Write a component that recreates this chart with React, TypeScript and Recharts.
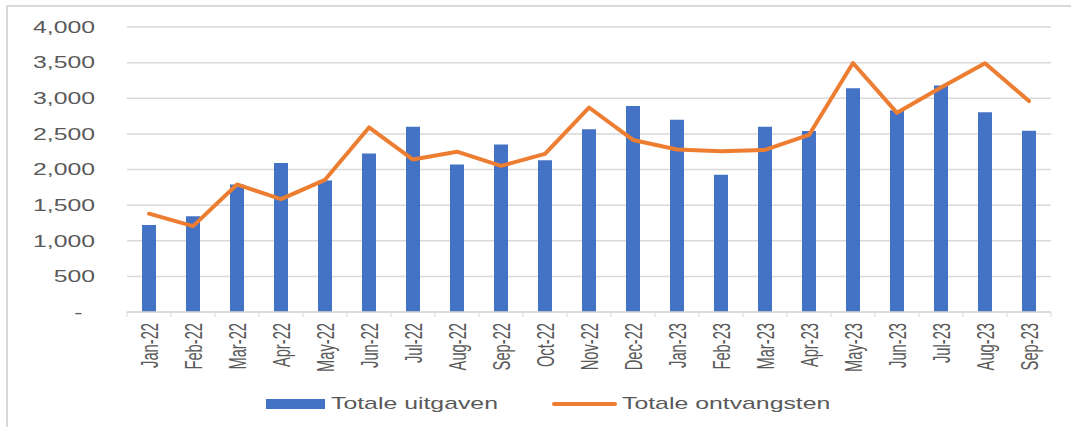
import React from "react";
import {
  ComposedChart,
  Bar,
  Line,
  XAxis,
  YAxis,
  CartesianGrid,
  Legend,
} from "recharts";

/* ── Data ─────────────────────────────────────────────────────── */

const months = [
  "Jan-22", "Feb-22", "Mar-22", "Apr-22", "May-22", "Jun-22", "Jul-22",
  "Aug-22", "Sep-22", "Oct-22", "Nov-22", "Dec-22", "Jan-23", "Feb-23",
  "Mar-23", "Apr-23", "May-23", "Jun-23", "Jul-23", "Aug-23", "Sep-23",
];

const uitgaven = [
  1220, 1345, 1790, 2090, 1845, 2225, 2600, 2070, 2350, 2130, 2565, 2890,
  2700, 1925, 2600, 2540, 3140, 2830, 3180, 2805, 2545,
];

const ontvangsten = [
  1380, 1205, 1790, 1585, 1855, 2590, 2140, 2250, 2050, 2220, 2870, 2415,
  2280, 2255, 2275, 2485, 3495, 2795, 3150, 3490, 2960,
];

const yTicks = [0, 500, 1000, 1500, 2000, 2500, 3000, 3500, 4000];

/* ── Constants ────────────────────────────────────────────────── */

const BLUE = "#4472C4";
const ORANGE = "#ED7D31";
const TEXT = "#595959";
const GRID = "#d9d9d9";
const FONT = "'Liberation Sans', Arial, sans-serif";

const data = months.map((m, i) => ({
  month: m,
  uitgaven: uitgaven[i],
  ontvangsten: ontvangsten[i],
}));

/* ── Custom ticks ─────────────────────────────────────────────── */

function YTick(props: any) {
  const { x, y, payload } = props;
  const v = payload.value as number;
  const label = v === 0 ? "-" : v.toLocaleString("en-US");
  return (
    <g transform={`translate(${x},${y}) scale(1.55,1)`}>
      <text
        x={v === 0 ? -8 : 0}
        y={0}
        dy="0.36em"
        textAnchor="end"
        fill={TEXT}
        fontSize={16}
        fontFamily={FONT}
      >
        {label}
      </text>
    </g>
  );
}

function XTick(props: any) {
  const { x, y, payload } = props;
  const half = payload.offset || 22;
  const isLast = payload.index === months.length - 1;
  const axisY = y - 11;
  return (
    <g>
      <line x1={x - half} x2={x - half} y1={axisY} y2={axisY + 5} stroke={GRID} />
      {isLast && (
        <line x1={x + half} x2={x + half} y1={axisY} y2={axisY + 5} stroke={GRID} />
      )}
      <g transform={`translate(${x},${y}) scale(1.65,1) rotate(-90)`}>
        <text
          x={0}
          y={0}
          dy="0.36em"
          textAnchor="end"
          fill={TEXT}
          fontSize={14.7}
          fontFamily={FONT}
        >
          {payload.value}
        </text>
      </g>
    </g>
  );
}

/* ── Legend ───────────────────────────────────────────────────── */

function LegendContent() {
  const label = (text: string, width: number) => (
    <span style={{ display: "inline-block", width, whiteSpace: "nowrap" }}>
      <span
        style={{
          display: "inline-block",
          transform: "scaleX(1.46)",
          transformOrigin: "left center",
        }}
      >
        {text}
      </span>
    </span>
  );
  return (
    <div
      style={{
        display: "flex",
        alignItems: "center",
        paddingLeft: 266,
        height: 20,
        color: TEXT,
        fontSize: 17,
        fontFamily: FONT,
      }}
    >
      <span style={{ width: 59, height: 10, background: BLUE, marginRight: 6 }} />
      {label("Totale uitgaven", 175)}
      <span
        style={{
          width: 65,
          height: 4,
          borderRadius: 2,
          background: ORANGE,
          marginLeft: 46,
          marginRight: 5,
        }}
      />
      {label("Totale ontvangsten", 215)}
    </div>
  );
}

/* ── Component ────────────────────────────────────────────────── */

export default function App() {
  return (
    <div
      style={{
        position: "absolute",
        left: 0,
        top: 0,
        width: 1071,
        height: 427,
        background: "#fff",
        overflow: "hidden",
      }}
    >
      <div
        style={{
          position: "absolute",
          left: 6,
          top: 5,
          width: 1100,
          height: 440,
          borderTop: `2px solid ${GRID}`,
          borderLeft: `2px solid ${GRID}`,
        }}
      />
      <div style={{ position: "absolute", left: 0, top: 0 }}>
        <ComposedChart
          width={1071}
          height={427}
          data={data}
          margin={{ top: 27, right: 20, bottom: 0, left: 0 }}
        >
          <CartesianGrid vertical={false} stroke={GRID} strokeWidth={1.5} />
          <XAxis
            dataKey="month"
            height={115}
            interval={0}
            axisLine={{ stroke: GRID, strokeWidth: 1.5 }}
            tickLine={false}
            tickSize={0}
            tickMargin={11}
            tick={<XTick />}
          />
          <YAxis
            width={127}
            domain={[0, 4000]}
            ticks={yTicks}
            axisLine={false}
            tickLine={false}
            tickSize={0}
            tickMargin={32}
            tick={<YTick />}
          />
          <Bar
            dataKey="uitgaven"
            name="Totale uitgaven"
            fill={BLUE}
            barSize={14}
            isAnimationActive={false}
          />
          <Line
            dataKey="ontvangsten"
            name="Totale ontvangsten"
            type="linear"
            stroke={ORANGE}
            strokeWidth={4}
            strokeLinecap="round"
            strokeLinejoin="round"
            dot={false}
            activeDot={false}
            isAnimationActive={false}
          />
          <Legend
            layout="vertical"
            verticalAlign="middle"
            align="center"
            content={<LegendContent />}
            wrapperStyle={{ left: 0, top: 394, width: 1071 }}
          />
        </ComposedChart>
      </div>
    </div>
  );
}
